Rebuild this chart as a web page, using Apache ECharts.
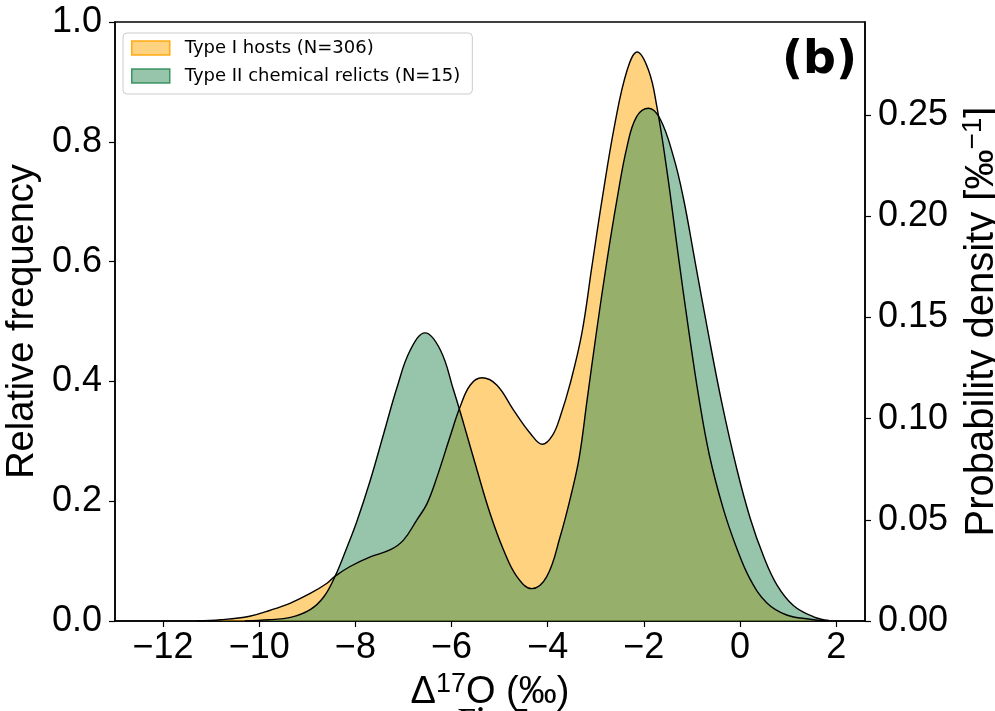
<!DOCTYPE html>
<html>
<head>
<meta charset="utf-8">
<script src="https://cdn.jsdelivr.net/npm/echarts@6/dist/echarts.min.js"></script>
<style>
  html, body { margin: 0; padding: 0; background: #fff; }
  #chart { width: 995px; height: 711px; }
</style>
</head>
<body>
<div id="chart"></div>
<script>
// Δ17O positions (‰) and smoothed relative-frequency curve, Type I hosts
const hostsX = [-11.3, -10.8, -10.2, -9.77, -9.35, -8.94, -8.59, -8.42, -8.11, -7.69, -7.27, -7.00,
  -6.72, -6.51, -6.30, -6.03, -5.82, -5.61, -5.37, -5.06, -4.71, -4.36, -4.11, -3.90, -3.74,
  -3.53, -3.29, -3.08, -2.87, -2.60, -2.35, -2.14, -1.90, -1.73, -1.52, -1.28, -1.07, -0.86,
  -0.64, -0.35, -0.07, 0.21, 0.56, 0.97, 1.46, 1.80];
const hostsFreq = [0.000, 0.002, 0.008, 0.018, 0.030, 0.046, 0.063, 0.075, 0.091, 0.107, 0.119, 0.135,
  0.169, 0.196, 0.241, 0.308, 0.358, 0.394, 0.406, 0.394, 0.352, 0.313, 0.295, 0.310, 0.341,
  0.397, 0.480, 0.592, 0.703, 0.831, 0.919, 0.950, 0.919, 0.859, 0.752, 0.608, 0.487, 0.375,
  0.278, 0.188, 0.122, 0.070, 0.030, 0.010, 0.003, 0.000];

// Same for Type II chemical relicts
const relictsX = [-10.3, -9.8, -9.35, -8.94, -8.66, -8.42, -8.17, -7.97, -7.69, -7.41, -7.13, -6.86,
  -6.55, -6.23, -5.96, -5.75, -5.47, -5.20, -4.92, -4.64, -4.33, -4.02, -3.74, -3.50, -3.34,
  -3.18, -2.99, -2.77, -2.56, -2.35, -2.15, -1.90, -1.66, -1.38, -1.18, -0.93, -0.66, -0.38,
  -0.07, 0.21, 0.49, 0.77, 1.11, 1.53, 1.85];
const relictsFreq = [0.000, 0.002, 0.006, 0.019, 0.040, 0.075, 0.124, 0.166, 0.235, 0.313, 0.391, 0.452,
  0.481, 0.452, 0.386, 0.330, 0.252, 0.180, 0.119, 0.074, 0.054, 0.074, 0.141, 0.215, 0.275,
  0.369, 0.480, 0.600, 0.703, 0.792, 0.842, 0.856, 0.838, 0.774, 0.707, 0.598, 0.480, 0.365,
  0.255, 0.172, 0.108, 0.060, 0.026, 0.007, 0.001];

const xTicks = [-12, -10, -8, -6, -4, -2, 0, 2];
const freqTicks = [0.0, 0.2, 0.4, 0.6, 0.8, 1.0];
const densityTicks = [0.00, 0.05, 0.10, 0.15, 0.20, 0.25];

const hostsName = 'Type I hosts (N=306)';
const relictsName = 'Type II chemical relicts (N=15)';

const zip = (xs, ys) => xs.map((x, i) => [x, ys[i]]);
const hostsData = zip(hostsX, hostsFreq);
const relictsData = zip(relictsX, relictsFreq);

const axisFont = 'Liberation Sans, Arial, Helvetica, sans-serif';
const fmtSigned = v => (v < 0 ? '\u2212' + Math.abs(v) : String(v));

const chart = echarts.init(document.getElementById('chart'), null, { renderer: 'canvas' });

const axisLineStyle = { show: true, onZero: false, lineStyle: { color: '#000', width: 1.5 } };
const tickStyle = { show: true, length: 6, lineStyle: { color: '#000', width: 1.2 } };
const supRich = size => ({
  a: { fontFamily: axisFont, fontSize: size, color: '#000', lineHeight: size + 6 },
  s: { fontFamily: axisFont, fontSize: Math.round(size * 0.7), color: '#000',
       lineHeight: Math.round(size * 0.7), verticalAlign: 'top' }
});
const smoothness = 0.4;

chart.setOption({
  animation: false,
  backgroundColor: '#fff',
  grid: {
    left: 115, right: 130, top: 22, bottom: 90,
    outerBoundsMode: 'none', containLabel: false,
    show: true, borderColor: '#000', borderWidth: 1.5, backgroundColor: 'transparent'
  },
  legend: {
    orient: 'vertical', left: 123, top: 33,
    padding: [6, 12, 9, 8], itemGap: 10,
    itemWidth: 38, itemHeight: 14,
    backgroundColor: 'rgba(255,255,255,0.8)',
    borderColor: '#cccccc', borderWidth: 1, borderRadius: 4,
    textStyle: { fontFamily: 'DejaVu Sans', fontSize: 18, color: '#000', padding: [0, 0, 0, 10] },
    data: [
      { name: hostsName, icon: 'rect',
        itemStyle: { color: 'rgba(255,165,0,0.5)', borderColor: 'rgba(255,165,0,0.9)', borderWidth: 1.5 } },
      { name: relictsName, icon: 'rect',
        itemStyle: { color: 'rgba(46,139,87,0.5)', borderColor: 'rgba(46,139,87,0.9)', borderWidth: 1.5 } }
    ]
  },
  xAxis: {
    type: 'value', min: -13, max: 2.6,
    axisLine: axisLineStyle,
    splitLine: { show: false },
    axisTick: { ...tickStyle, customValues: xTicks },
    axisLabel: {
      customValues: xTicks, formatter: fmtSigned, margin: 9,
      fontFamily: axisFont, fontSize: 36, color: '#000'
    },
    name: '{a|\u0394}{s|17}{a|O (\u2030)}',
    nameLocation: 'middle', nameGap: 38,
    nameTextStyle: { rich: supRich(38) }
  },
  yAxis: [
    {
      type: 'value', min: 0, max: 1, position: 'left',
      axisLine: axisLineStyle,
      splitLine: { show: false },
      axisTick: { ...tickStyle, customValues: freqTicks },
      axisLabel: {
        customValues: freqTicks, formatter: v => v.toFixed(1), margin: 13,
        fontFamily: axisFont, fontSize: 36, color: '#000'
      },
      name: 'Relative frequency', nameLocation: 'middle', nameRotate: 90, nameGap: 67,
      nameTextStyle: { fontFamily: axisFont, fontSize: 38, color: '#000' }
    },
    {
      type: 'value', min: 0, max: 0.296, position: 'right',
      axisLine: axisLineStyle,
      splitLine: { show: false },
      axisTick: { ...tickStyle, customValues: densityTicks },
      axisLabel: {
        customValues: densityTicks, formatter: v => v.toFixed(2), margin: 13,
        fontFamily: axisFont, fontSize: 36, color: '#000'
      },
      name: '{a|Probability density [\u2030}{s|\u22121}{a|]}',
      nameLocation: 'middle', nameRotate: 90, nameGap: 80,
      nameTextStyle: { rich: supRich(40) }
    }
  ],
  series: [
    {
      name: hostsName, type: 'line', data: hostsData, smooth: smoothness,
      symbol: 'none', color: 'rgba(255,165,0,0.5)',
      lineStyle: { width: 0 },
      areaStyle: { color: 'rgba(255,165,0,0.5)', opacity: 1 },
      z: 2
    },
    {
      name: relictsName, type: 'line', data: relictsData, smooth: smoothness,
      symbol: 'none', color: 'rgba(46,139,87,0.5)',
      lineStyle: { width: 0 },
      areaStyle: { color: 'rgba(46,139,87,0.5)', opacity: 1 },
      z: 2
    },
    // outlines drawn above both fills
    {
      name: hostsName, type: 'line', data: hostsData, smooth: smoothness,
      symbol: 'none', lineStyle: { color: '#000', width: 1.4 }, z: 3, silent: true
    },
    {
      name: relictsName, type: 'line', data: relictsData, smooth: smoothness,
      symbol: 'none', lineStyle: { color: '#000', width: 1.4 }, z: 3, silent: true
    }
  ],
  graphic: [
    {
      type: 'text', right: 995 - 857, top: 38, z: 10,
      style: { text: '(b)', fontFamily: 'DejaVu Sans', fontWeight: 'bold', fontSize: 46, fill: '#000' }
    },
    {
      type: 'text', left: 458, top: 705, z: 10,
      style: { text: 'Fig. 5', fontFamily: 'Liberation Serif', fontWeight: 'bold', fontSize: 30, fill: '#000' }
    }
  ]
});
</script>
</body>
</html>
